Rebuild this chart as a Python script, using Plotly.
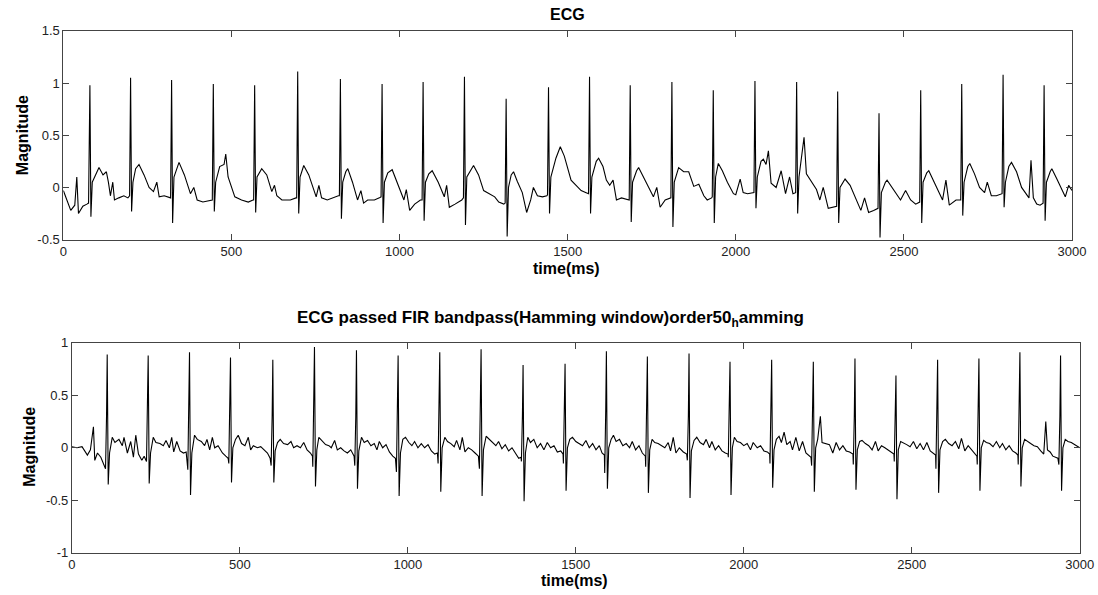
import plotly.graph_objects as go

# ---------------- Top panel: raw ECG (vertices) ----------------
top_pts = [
    (0, -0.03), (10, -0.12), (22, -0.22), (34, -0.17), (40, 0.10), (45, -0.25), (58, -0.18), (70, -0.16),
    (75, -0.15), (79, 0.98), (82, -0.28), (86, 0.05), (95, 0.12), (106, 0.19), (118, 0.12), (128, 0.15), (134, 0.05), (140, -0.08), (147, 0.05), (152, -0.12), (165, -0.10), (180, -0.08), (192, -0.10),
    (197, -0.08), (200, 1.05), (203, -0.23), (207, 0.05), (215, 0.18), (225, 0.22), (240, 0.12), (255, 0.0), (268, -0.04), (278, 0.05), (285, -0.09), (300, -0.08), (315, -0.10),
    (319, -0.10), (322, 1.03), (325, -0.34), (329, 0.10), (344, 0.24), (360, 0.12), (378, -0.06), (388, 0.0), (398, -0.12), (415, -0.14), (440, -0.12),
    (443, -0.12), (446, 0.99), (449, -0.23), (453, 0.05), (465, 0.20), (478, 0.22), (483, 0.32), (490, 0.10), (500, 0.0), (510, -0.09), (530, -0.12), (550, -0.14), (564, -0.12),
    (566, -0.12), (569, 0.98), (572, -0.24), (576, 0.10), (590, 0.18), (605, 0.12), (620, -0.04), (628, 0.02), (635, -0.08), (650, -0.12), (675, -0.12), (692, -0.10),
    (694, -0.10), (697, 1.11), (700, -0.25), (704, 0.10), (715, 0.21), (730, 0.12), (752, -0.09), (760, 0.02), (768, -0.10), (785, -0.12), (800, -0.10), (818, -0.08),
    (821, -0.08), (824, 1.04), (827, -0.30), (831, 0.05), (840, 0.15), (846, 0.18), (860, 0.05), (875, -0.12), (885, -0.03), (893, -0.15), (905, -0.12), (925, -0.12), (940, -0.10),
    (945, -0.09), (948, 0.99), (951, -0.34), (955, 0.05), (965, 0.14), (978, 0.17), (995, 0.02), (1013, -0.12), (1020, -0.02), (1030, -0.22), (1045, -0.16), (1062, -0.12),
    (1067, -0.12), (1070, 1.01), (1073, -0.32), (1077, 0.05), (1087, 0.13), (1097, 0.16), (1115, 0.05), (1133, -0.09), (1140, 0.02), (1148, -0.19), (1165, -0.16), (1185, -0.12),
    (1190, -0.10), (1193, 1.06), (1196, -0.36), (1200, 0.10), (1220, 0.21), (1235, 0.12), (1250, -0.03), (1270, -0.07), (1283, -0.09), (1295, -0.14), (1310, -0.16),
    (1314, -0.15), (1317, 0.85), (1320, -0.47), (1324, 0.0), (1332, 0.12), (1339, 0.15), (1350, 0.06), (1365, -0.05), (1378, -0.24), (1390, -0.12), (1398, 0.0), (1410, -0.08), (1425, -0.09), (1438, -0.08),
    (1440, -0.07), (1443, 0.96), (1446, -0.25), (1450, 0.10), (1465, 0.28), (1478, 0.39), (1490, 0.30), (1500, 0.19), (1510, 0.07), (1525, 0.02), (1540, -0.03), (1555, -0.05),
    (1562, -0.06), (1565, 1.06), (1568, -0.25), (1572, 0.10), (1585, 0.25), (1592, 0.28), (1605, 0.20), (1615, 0.07), (1625, 0.02), (1635, 0.07), (1645, -0.12), (1660, -0.10), (1680, -0.12),
    (1683, -0.12), (1686, 0.98), (1689, -0.33), (1693, 0.05), (1705, 0.16), (1711, 0.19), (1725, 0.10), (1740, 0.0), (1755, -0.09), (1765, 0.0), (1775, -0.19), (1790, -0.12), (1805, -0.10),
    (1807, -0.10), (1810, 1.01), (1813, -0.38), (1817, 0.05), (1830, 0.19), (1845, 0.15), (1860, 0.15), (1875, 0.01), (1890, 0.03), (1905, -0.08), (1915, -0.12), (1928, -0.10),
    (1930, -0.09), (1933, 0.93), (1936, -0.34), (1940, 0.10), (1948, 0.23), (1960, 0.16), (1975, 0.05), (1993, -0.06), (2000, -0.07), (2013, 0.08), (2022, -0.05), (2035, -0.06), (2050, -0.05),
    (2054, -0.05), (2057, 1.02), (2060, -0.20), (2064, 0.10), (2075, 0.25), (2082, 0.27), (2090, 0.22), (2097, 0.35), (2105, 0.04), (2120, 0.0), (2135, 0.16), (2148, -0.06), (2160, 0.10), (2170, -0.06),
    (2178, -0.05), (2181, 1.01), (2184, -0.25), (2188, 0.10), (2197, 0.30), (2203, 0.48), (2210, 0.13), (2225, 0.05), (2240, -0.02), (2250, -0.12), (2260, 0.0), (2275, -0.20), (2290, -0.19),
    (2300, -0.18), (2303, 0.92), (2306, -0.34), (2310, 0.0), (2320, 0.06), (2325, 0.08), (2340, 0.02), (2355, -0.09), (2372, -0.22), (2383, -0.10), (2395, -0.24), (2410, -0.22),
    (2423, -0.20), (2426, 0.71), (2429, -0.48), (2433, -0.05), (2445, 0.05), (2450, 0.07), (2465, 0.0), (2480, -0.08), (2490, -0.12), (2505, -0.03), (2520, -0.12), (2535, -0.16),
    (2547, -0.14), (2550, 0.93), (2553, -0.34), (2557, 0.05), (2568, 0.14), (2574, 0.16), (2590, 0.05), (2605, -0.06), (2615, -0.12), (2625, 0.07), (2635, -0.17), (2655, -0.12),
    (2669, -0.12), (2672, 0.99), (2675, -0.27), (2679, 0.05), (2690, 0.20), (2696, 0.23), (2710, 0.13), (2725, 0.0), (2740, -0.05), (2748, 0.05), (2760, -0.08), (2775, -0.08),
    (2792, -0.06), (2795, 1.08), (2798, -0.19), (2802, 0.05), (2812, 0.20), (2820, 0.24), (2835, 0.15), (2850, 0.0), (2862, -0.05), (2872, -0.10), (2878, 0.26), (2885, -0.10), (2895, -0.16), (2905, -0.17),
    (2914, -0.15), (2917, 0.98), (2920, -0.32), (2924, 0.05), (2935, 0.15), (2940, 0.18), (2955, 0.08), (2970, -0.03), (2980, -0.09), (2990, 0.02), (3000, -0.03),
]

# ---------------- Bottom panel: FIR bandpass output (vertices) ----------------
bot_pts = [
    (0, 0.01), (15, 0.0), (30, 0.01), (46, -0.07), (55, -0.02), (64, 0.20), (68, -0.12), (76, -0.05), (86, -0.09),
    (100, -0.20), (103, 0.30), (105, 0.89), (108, -0.35), (112, -0.05), (120, 0.10), (128, 0.05), (140, 0.08), (150, 0.02), (155, 0.10), (165, -0.05), (175, 0.06), (183, -0.09), (190, 0.12), (198, -0.06), (208, -0.12), (215, -0.08),
    (222, -0.13), (225, 0.30), (227, 0.88), (230, -0.34), (234, -0.05), (242, 0.10), (250, 0.05), (262, 0.04), (272, 0.02), (280, 0.07), (290, 0.0), (297, 0.10), (303, -0.04), (312, 0.06), (322, -0.03), (332, -0.05), (340, -0.04),
    (345, -0.21), (348, 0.40), (350, 0.91), (353, -0.45), (357, -0.05), (365, 0.12), (373, 0.08), (385, 0.06), (395, 0.02), (402, 0.08), (410, -0.02), (418, 0.10), (425, 0.0), (435, 0.02), (448, -0.05), (458, -0.08), (465, -0.10),
    (467, -0.15), (470, 0.30), (472, 0.86), (475, -0.33), (479, 0.0), (487, 0.08), (495, 0.12), (505, 0.04), (515, 0.02), (525, 0.10), (532, -0.02), (540, 0.02), (552, 0.0), (562, 0.01), (572, -0.02), (582, -0.05), (590, -0.10),
    (593, -0.17), (596, 0.30), (598, 0.84), (601, -0.33), (605, -0.03), (612, 0.05), (620, 0.08), (630, 0.04), (642, 0.03), (652, 0.06), (660, 0.0), (670, 0.02), (680, 0.0), (690, 0.05), (700, -0.02), (710, -0.05), (716, -0.08),
    (717, -0.18), (720, 0.30), (722, 0.96), (725, -0.37), (729, -0.02), (735, 0.10), (745, 0.06), (755, 0.03), (765, 0.02), (772, 0.0), (782, 0.07), (790, -0.02), (800, 0.0), (810, -0.03), (820, -0.05), (830, -0.02), (840, -0.08),
    (842, -0.17), (845, 0.30), (847, 0.93), (850, -0.39), (854, -0.03), (862, 0.10), (870, 0.05), (880, 0.07), (890, 0.02), (900, 0.04), (908, -0.02), (915, 0.06), (925, 0.0), (935, 0.03), (945, -0.04), (955, -0.08), (963, -0.10),
    (966, -0.23), (969, 0.30), (971, 0.88), (974, -0.46), (978, -0.05), (985, 0.08), (993, 0.10), (1003, 0.05), (1012, 0.02), (1020, 0.06), (1030, 0.0), (1040, 0.04), (1050, 0.0), (1060, 0.03), (1070, -0.03), (1080, -0.06), (1088, -0.05),
    (1090, -0.15), (1093, 0.30), (1095, 0.91), (1098, -0.42), (1102, 0.0), (1110, 0.10), (1118, 0.06), (1128, 0.04), (1138, 0.01), (1145, 0.07), (1155, -0.02), (1162, 0.10), (1170, -0.04), (1180, 0.0), (1190, -0.02), (1200, -0.05), (1210, -0.08),
    (1213, -0.20), (1216, 0.35), (1218, 0.94), (1221, -0.46), (1225, -0.02), (1233, 0.11), (1242, 0.08), (1252, 0.05), (1262, 0.02), (1270, 0.06), (1280, -0.01), (1290, 0.03), (1300, -0.03), (1310, 0.0), (1320, -0.05), (1330, -0.10), (1337, -0.09),
    (1338, -0.13), (1341, 0.30), (1343, 0.79), (1346, -0.51), (1350, -0.05), (1357, 0.10), (1365, 0.05), (1375, 0.08), (1385, 0.0), (1395, 0.04), (1405, -0.02), (1415, 0.05), (1425, 0.0), (1435, 0.02), (1445, -0.04), (1455, -0.03), (1462, -0.06),
    (1463, -0.15), (1466, 0.30), (1468, 0.80), (1471, -0.41), (1475, 0.0), (1482, 0.08), (1490, 0.10), (1500, 0.06), (1510, 0.04), (1520, 0.02), (1530, 0.07), (1540, 0.0), (1550, 0.04), (1560, -0.02), (1570, 0.02), (1578, -0.05), (1585, -0.07),
    (1586, -0.24), (1589, 0.35), (1591, 0.92), (1594, -0.39), (1598, 0.0), (1605, 0.08), (1612, 0.12), (1620, 0.06), (1630, 0.08), (1640, 0.02), (1650, 0.04), (1660, 0.0), (1668, 0.06), (1678, -0.02), (1688, 0.02), (1698, -0.05), (1707, -0.08),
    (1708, -0.18), (1711, 0.30), (1713, 0.87), (1716, -0.43), (1720, -0.02), (1727, 0.08), (1735, 0.05), (1745, 0.04), (1755, 0.02), (1765, 0.0), (1775, 0.05), (1782, -0.03), (1790, 0.10), (1798, -0.05), (1808, 0.0), (1820, -0.04), (1830, -0.06),
    (1832, -0.12), (1835, 0.30), (1837, 0.90), (1840, -0.48), (1844, -0.03), (1852, 0.07), (1860, 0.10), (1870, 0.05), (1880, 0.03), (1888, 0.08), (1898, 0.0), (1905, 0.06), (1915, -0.02), (1925, 0.02), (1935, -0.03), (1945, -0.05), (1953, -0.06),
    (1954, -0.09), (1957, 0.30), (1959, 0.82), (1962, -0.45), (1966, 0.0), (1972, 0.10), (1980, 0.06), (1990, 0.05), (2000, 0.02), (2010, 0.04), (2020, -0.02), (2028, 0.05), (2040, 0.0), (2050, 0.02), (2060, -0.03), (2070, -0.04), (2077, -0.06),
    (2078, -0.15), (2081, 0.30), (2083, 0.84), (2086, -0.38), (2090, -0.02), (2097, 0.08), (2105, 0.11), (2112, 0.05), (2120, 0.15), (2128, 0.03), (2138, 0.06), (2145, -0.02), (2155, 0.10), (2165, -0.03), (2175, 0.06), (2185, -0.05), (2200, -0.09),
    (2202, -0.17), (2205, 0.30), (2207, 0.82), (2210, -0.42), (2214, 0.0), (2220, 0.08), (2228, 0.30), (2233, 0.05), (2245, 0.04), (2255, 0.03), (2265, -0.05), (2275, 0.05), (2285, -0.02), (2295, 0.02), (2305, -0.03), (2315, -0.04), (2325, -0.06),
    (2326, -0.16), (2329, 0.30), (2331, 0.85), (2334, -0.40), (2338, -0.02), (2345, 0.06), (2352, 0.07), (2362, 0.04), (2372, 0.02), (2382, -0.02), (2392, 0.06), (2400, -0.03), (2410, 0.02), (2420, 0.0), (2430, -0.02), (2440, -0.04), (2447, -0.06),
    (2448, -0.13), (2451, 0.25), (2453, 0.69), (2456, -0.49), (2460, -0.02), (2467, 0.06), (2475, 0.05), (2485, 0.03), (2495, 0.01), (2505, 0.06), (2515, -0.01), (2525, 0.04), (2535, -0.02), (2545, 0.05), (2555, -0.03), (2565, -0.05), (2571, -0.07),
    (2572, -0.20), (2575, 0.30), (2577, 0.84), (2580, -0.43), (2584, -0.02), (2592, 0.06), (2600, 0.08), (2610, 0.04), (2620, 0.02), (2630, 0.06), (2640, -0.01), (2648, 0.09), (2658, -0.03), (2668, 0.02), (2678, -0.02), (2688, -0.05), (2694, -0.08),
    (2695, -0.16), (2698, 0.30), (2700, 0.85), (2703, -0.41), (2707, 0.0), (2714, 0.07), (2722, 0.05), (2732, 0.04), (2742, 0.01), (2752, 0.06), (2762, 0.0), (2770, 0.04), (2780, -0.02), (2790, 0.02), (2800, -0.03), (2810, -0.05), (2816, -0.07),
    (2817, -0.16), (2820, 0.35), (2822, 0.91), (2825, -0.37), (2829, 0.0), (2836, 0.08), (2844, 0.06), (2854, 0.04), (2864, 0.02), (2874, 0.01), (2884, -0.03), (2893, -0.06), (2899, 0.25), (2904, -0.02), (2912, -0.04), (2920, -0.08), (2935, -0.10),
    (2938, -0.16), (2941, 0.30), (2943, 0.88), (2946, -0.41), (2950, 0.0), (2957, 0.08), (2965, 0.06), (2975, 0.05), (2985, 0.03), (3000, 0.0),
]

top_time = [p[0] for p in top_pts]
top_mag = [p[1] for p in top_pts]
bot_time = [p[0] for p in bot_pts]
bot_mag = [p[1] for p in bot_pts]

x_ticks = [0, 500, 1000, 1500, 2000, 2500, 3000]
top_yticks = [-0.5, 0, 0.5, 1, 1.5]
top_ylabels = ["-0.5", "0", "0.5", "1", "1.5"]
bot_yticks = [-1, -0.5, 0, 0.5, 1]
bot_ylabels = ["-1", "-0.5", "0", "0.5", "1"]

# The figure fills the browser viewport; positions are fractions of the area it occupies.
X0, WX = 3.3, 1081.0
Y0, HY = 6.4, 580.7
def fx(px):
    return (px - X0) / WX
def fy(py):
    return 1 - (py - Y0) / HY

FONT = "Liberation Sans, Arial, sans-serif"

fig = go.Figure()
fig.add_trace(go.Scatter(x=top_time, y=top_mag, mode="lines",
                         line=dict(color="black", width=1.1), xaxis="x", yaxis="y", showlegend=False))
fig.add_trace(go.Scatter(x=bot_time, y=bot_mag, mode="lines",
                         line=dict(color="black", width=1.1), xaxis="x2", yaxis="y2", showlegend=False))

axis_common = dict(showgrid=False, zeroline=False, showline=True, linecolor="#444444", linewidth=1,
                   mirror="ticks", ticks="inside", ticklen=6, tickcolor="#444444",
                   ticklabeloverflow="allow",
                   tickfont=dict(family=FONT, size=13, color="#222222"))

fig.update_layout(
    autosize=True,
    margin=dict(l=0, r=0, t=0, b=0),
    paper_bgcolor="white", plot_bgcolor="white",
    xaxis=dict(domain=[fx(62.7), fx(1072.3)], range=[0, 3000], tickvals=x_ticks,
               anchor="y", **axis_common),
    yaxis=dict(domain=[fy(239.3), fy(30.3)], range=[-0.5, 1.5], tickvals=top_yticks,
               ticktext=top_ylabels, anchor="x", **axis_common),
    xaxis2=dict(domain=[fx(71.3), fx(1080)], range=[0, 3000], tickvals=x_ticks,
                anchor="y2", **axis_common),
    yaxis2=dict(domain=[fy(552.7), fy(342.7)], range=[-1, 1], tickvals=bot_yticks,
                ticktext=bot_ylabels, anchor="x2", **axis_common),
)

def ann(text, px, py, size=13, angle=0):
    fig.add_annotation(text=text, x=fx(px), y=fy(py), xref="paper", yref="paper",
                       showarrow=False, textangle=angle, xanchor="center", yanchor="middle",
                       font=dict(family=FONT, size=size, color="black"))

ann("<b>ECG</b>", 567, 14, 16)
ann("<b>time(ms)</b>", 566, 268, 16)
ann("<b>Magnitude</b>", 22, 135, 16, -90)
ann("<b>ECG passed FIR bandpass(Hamming window)order50<sub>h</sub>amming</b>", 550, 319, 17)
ann("<b>time(ms)</b>", 574, 581, 16)
ann("<b>Magnitude</b>", 28, 447, 16, -90)

post = (
    "document.documentElement.style.margin='0';document.documentElement.style.padding='0';"
    "document.documentElement.style.overflow='hidden';"
    "document.body.style.margin='0';document.body.style.padding='0';document.body.style.overflow='hidden';"
    "var gd=document.getElementById('{plot_id}');"
    "gd.style.width='100vw';gd.style.height='100vh';"
    "Plotly.Plots.resize(gd).then(function(){"
    "gd.querySelectorAll('svg.main-svg').forEach(function(s){s.style.overflow='visible';});"
    "});"
)

fig.write_html("out.html", config={"displayModeBar": False, "responsive": True},
               default_width="100vw", default_height="100vh", post_script=post)
